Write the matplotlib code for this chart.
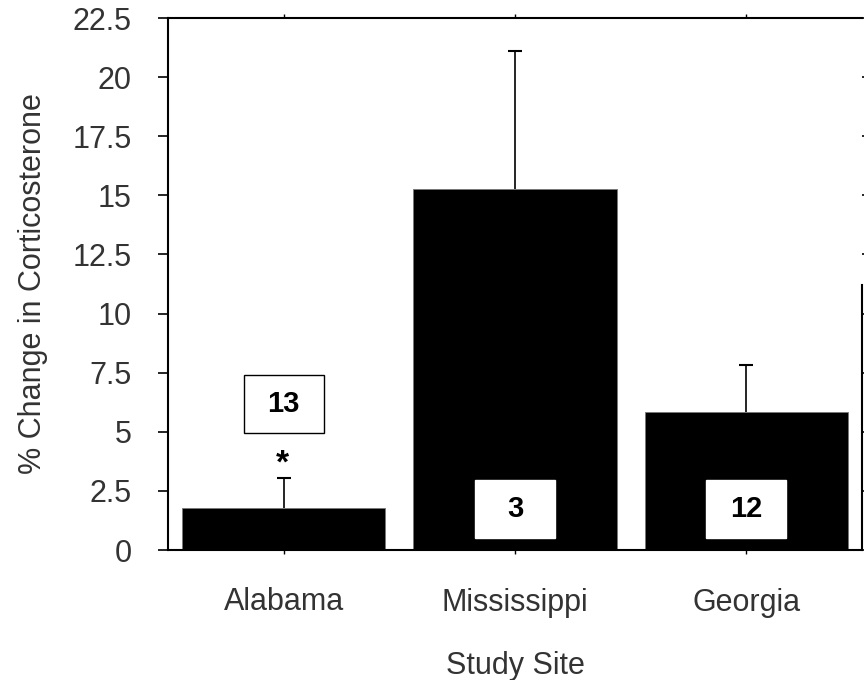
import numpy as np
import matplotlib.pyplot as plt
from matplotlib.patches import Rectangle

# data
sites = ['Alabama', 'Mississippi', 'Georgia']
change = [1.78, 15.27, 5.85]
err_up = [1.27, 5.83, 1.98]
n_birds = ['13', '3', '12']
n_label_y = [6.18, 1.73, 1.73]
star_y = 3.75
yticks = [0, 2.5, 5, 7.5, 10, 12.5, 15, 17.5, 20, 22.5]
ytick_labels = ['0', '2.5', '5', '7.5', '10', '12.5', '15', '17.5', '20', '22.5']

plt.rcParams['font.family'] = ['Liberation Sans', 'DejaVu Sans']

fig = plt.figure(figsize=(8.64, 6.8), dpi=100)
ax = fig.add_axes([168/864, 130/680, 694/864, 532/680])

x = np.arange(len(sites))
ax.bar(x, change, width=0.88, color='black', edgecolor='#777777', linewidth=0.6, zorder=2)
# only the upper half of the error bar, cap on top
tops = np.array(change) + np.array(err_up)
ax.vlines(x, change, tops, color='black', lw=1.2, zorder=3)
ax.plot(x, tops, ls='none', marker='_', ms=10, mew=1.5, color='black', zorder=3)

# sample size boxes
bw, bh = 0.345, 2.45
for xi, lab, yy in zip(x, n_birds, n_label_y):
    ax.add_patch(Rectangle((xi - bw/2, yy - bh/2), bw, bh, fc='white',
                           ec='black' if lab == '13' else 'white', lw=1.0, zorder=4))
    ax.text(xi, yy, lab, ha='center', va='center', fontsize=21, fontweight='bold', zorder=5)
ax.text(-0.005, star_y - 0.1, '*', ha='center', va='center', fontsize=24, fontweight='bold', zorder=4)

ax.set_xlim(-0.5, 2.5)
ax.set_ylim(0, 22.5)
ax.set_yticks(yticks)
ax.set_yticklabels(ytick_labels)
ax.set_xticks(x)
ax.set_xticklabels(sites)

for s in ['left', 'top', 'bottom', 'right']:
    ax.spines[s].set_linewidth(1.5)
ax.spines['right'].set_bounds(0, 11.2)

ax.tick_params(axis='y', direction='out', length=7, width=1.2,
               labelsize=22, labelcolor='#333333', pad=19, right=True)
for t in ax.yaxis.get_major_ticks():
    t.tick2line.set_markersize(1.5)
ax.tick_params(axis='x', direction='out', length=3, width=1.0, top=True,
               labelsize=22, labelcolor='#333333', pad=24)

ax.set_xlabel('Study Site', fontsize=22, color='#333333', labelpad=24)
ax.set_ylabel('% Change in Corticosterone', fontsize=22, color='#333333', labelpad=18)

fig.savefig('out.png', dpi=100)
